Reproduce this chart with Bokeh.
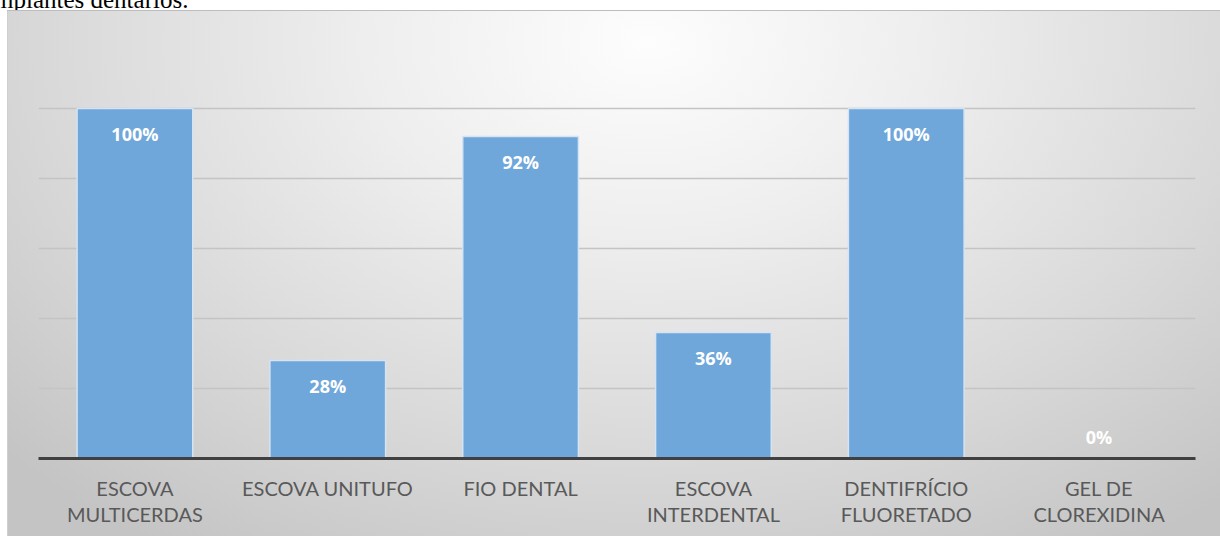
from bokeh.plotting import figure
from bokeh.models import (ColumnDataSource, FixedTicker, LabelSet, CategoricalAxis, Div,
                          CustomJSTickFormatter)
from bokeh.layouts import column
from bokeh.embed import file_html
from bokeh.resources import INLINE
from bokeh.core.properties import value

categories = ["ESCOVA MULTICERDAS", "ESCOVA UNITUFO", "FIO DENTAL",
              "ESCOVA INTERDENTAL", "DENTIFRÍCIO FLUORETADO", "GEL DE CLOREXIDINA"]
tick_line1 = ["ESCOVA", "ESCOVA UNITUFO", "FIO DENTAL", "ESCOVA", "DENTIFRÍCIO", "GEL DE"]
tick_line2 = ["MULTICERDAS", "", "", "INTERDENTAL", "FLUORETADO", "CLOREXIDINA"]
values_pct = [100, 28, 92, 36, 100, 0]
value_labels = [f"{v}%" for v in values_pct]
y_ticks = [0, 20, 40, 60, 80, 100, 120]
caption = "mplantes dentários."

label_offsets = [-25 if v > 0 else 22 for v in values_pct]

src = ColumnDataSource(dict(cat=categories, val=values_pct, lab=value_labels, off=label_offsets))

p = figure(x_range=categories, y_range=(0, 120), width=1220, height=526,
           output_backend="svg", toolbar_location=None,
           min_border_left=38, min_border_right=25, min_border_top=28, min_border_bottom=78)

p.styles = {"background": (
    "linear-gradient(#ffffff,#ffffff) 0 0 / 7px 100% no-repeat, "
    "linear-gradient(#bdbdbd,#bdbdbd) 7px 0 / 100% 1px no-repeat, "
    "linear-gradient(#cfcfcf,#cfcfcf) 7px 0 / 1px 100% no-repeat, "
    "radial-gradient(ellipse 72% 115% at 53% 6%, #fdfdfd 0%, #eeeeee 32%, #d9d9d9 68%, #c4c4c4 100%)")}
p.background_fill_alpha = 0
p.border_fill_alpha = 0
p.outline_line_color = None

p.vbar(x="cat", top="val", width=0.6, source=src, fill_color="#6fa7da",
       line_color="#d4e4f3", line_width=1.5)

p.yaxis.visible = False
p.ygrid.ticker = FixedTicker(ticks=y_ticks)
p.ygrid.grid_line_color = "#c4c4c4"
p.ygrid.grid_line_width = 1.5
p.xgrid.grid_line_color = None

label_font = "Lato"
label_size = "20px"
label_color = "#595959"

fmt_code = "const i = cats.indexOf(tick); return i >= 0 ? lines[i] : tick;"

ax = p.xaxis[0]
ax.axis_line_color = "#404040"
ax.axis_line_width = 3
ax.major_tick_line_color = None
ax.minor_tick_line_color = None
ax.formatter = CustomJSTickFormatter(args=dict(cats=categories, lines=tick_line1), code=fmt_code)
ax.major_label_text_font = label_font
ax.major_label_text_font_size = label_size
ax.major_label_text_color = label_color
ax.major_label_standoff = 11

ax2 = CategoricalAxis(axis_line_color=None, major_tick_line_color=None,
                      minor_tick_line_color=None,
                      formatter=CustomJSTickFormatter(args=dict(cats=categories, lines=tick_line2),
                                                      code=fmt_code),
                      major_label_text_font=label_font,
                      major_label_text_font_size=label_size,
                      major_label_text_color=label_color,
                      major_label_standoff=-7)
p.add_layout(ax2, "below")

labels = LabelSet(x="cat", y="val", text="lab", y_offset="off", source=src,
                  text_align="center", text_baseline="middle",
                  text_color="white", text_font=value("Open Sans"),
                  text_font_style="bold", text_font_size="18px")
p.add_layout(labels)

div = Div(text=('<div style="font-family: \'Liberation Serif\', serif; font-size: 25px; '
                'line-height: 25px; position: relative; top: -13px; left: -6px; '
                'white-space: nowrap; color: #000;">' + caption + '</div>'),
          width=1220, height=10, styles={"overflow": "hidden"}, margin=0)

layout = column(div, p, spacing=0)
open("out.html", "w").write(file_html(layout, INLINE))
